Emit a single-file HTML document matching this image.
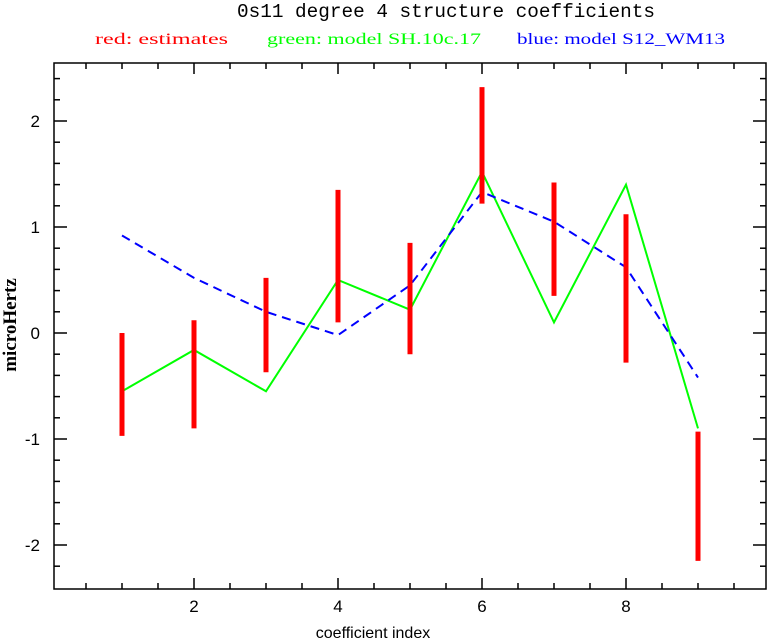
<!DOCTYPE html>
<html><head><meta charset="utf-8"><style>
html,body{margin:0;padding:0;background:#fff;}
svg{display:block;}
</style></head><body>
<svg id="chart" width="767" height="641" xmlns="http://www.w3.org/2000/svg">
<text x="237" y="17" font-family="Liberation Mono, monospace" font-size="19" textLength="418" lengthAdjust="spacingAndGlyphs">0s11 degree 4 structure coefficients</text>
<text x="95" y="44" fill="#ff0000" font-family="Liberation Serif, serif" font-size="16" textLength="133" lengthAdjust="spacingAndGlyphs">red: estimates</text>
<text x="267" y="44" fill="#00ff00" font-family="Liberation Serif, serif" font-size="16" textLength="214" lengthAdjust="spacingAndGlyphs">green: model SH.10c.17</text>
<text x="517" y="44" fill="#0000ff" font-family="Liberation Serif, serif" font-size="16" textLength="208" lengthAdjust="spacingAndGlyphs">blue: model S12_WM13</text>
<rect x="54" y="63" width="712" height="526" fill="none" stroke="#000" stroke-width="1.5"/>
<g id="axes"></g>
<g id="series"></g>
<text transform="translate(16,325) rotate(-90)" text-anchor="middle" font-family="Liberation Serif, serif" font-size="19" font-weight="bold">microHertz</text>
<text x="373" y="638" text-anchor="middle" font-family="Liberation Sans, sans-serif" font-size="16">coefficient index</text>
</svg>
<script>
const xIdx = [1,2,3,4,5,6,7,8,9];
const estLow = [-0.97,-0.9,-0.37,0.1,-0.2,1.22,0.35,-0.28,-2.15];
const estHigh = [0.0,0.12,0.52,1.35,0.85,2.32,1.42,1.12,-0.93];
const greenVals = [-0.55,-0.16,-0.55,0.5,0.22,1.52,0.1,1.4,-0.9];
const blueVals = [0.92,0.52,0.2,-0.02,0.45,1.33,1.05,0.62,-0.42];
const xTicks = [2,4,6,8];
const yTicks = [-2,-1,0,1,2];
const NS='http://www.w3.org/2000/svg';
const X0=54,X1=766,Y0=63,Y1=589;
function xs(v){return 50+72*v;}
function ys(v){return 333-106*v;}
const ax=document.getElementById('axes'), se=document.getElementById('series');
function mk(tag,attrs,parent){const e=document.createElementNS(NS,tag);for(const k in attrs)e.setAttribute(k,attrs[k]);parent.appendChild(e);return e;}
for(let v=0.5;v<=9.5;v+=0.5){
  const major=Math.abs(v-Math.round(v/2)*2)<1e-9;
  const L=major?11:6;
  let t=mk('line',{x1:xs(v),x2:xs(v),y1:Y1,y2:Y1-L,stroke:'#000','stroke-width':1.5},ax);
  
  
  t=mk('line',{x1:xs(v),x2:xs(v),y1:Y0,y2:Y0+L,stroke:'#000','stroke-width':1.5},ax);
  
  
}
xTicks.forEach(v=>{
  const t=mk('text',{x:xs(v),y:612,'text-anchor':'middle','font-family':'Liberation Sans, sans-serif','font-size':17},ax);
  t.textContent=v;
  
  
});
for(let i=-11;i<=12;i++){
  const v=i*0.2;
  const major=i%5===0;
  const L=major?13:6;
  let t=mk('line',{x1:X0,x2:X0+L,y1:ys(v),y2:ys(v),stroke:'#000','stroke-width':1.5},ax);
  
  
  t=mk('line',{x1:X1,x2:X1-L,y1:ys(v),y2:ys(v),stroke:'#000','stroke-width':1.5},ax);
  
  
}
yTicks.forEach(v=>{
  const t=mk('text',{x:40,y:ys(v)+6,'text-anchor':'end','font-family':'Liberation Sans, sans-serif','font-size':17},ax);
  t.textContent=v;
  
  
});
let g=mk('polyline',{points:xIdx.map((x,i)=>xs(x)+','+ys(greenVals[i])).join(' '),fill:'none',stroke:'#00ff00','stroke-width':2},se);


let b=mk('polyline',{points:xIdx.map((x,i)=>xs(x)+','+ys(blueVals[i])).join(' '),fill:'none',stroke:'#0000ff','stroke-width':2,'stroke-dasharray':'9,6'},se);


xIdx.forEach((x,i)=>{
  const r=mk('line',{x1:xs(x),x2:xs(x),y1:ys(estLow[i]),y2:ys(estHigh[i]),stroke:'#ff0000','stroke-width':5},se);
  
  
});
</script>
</body></html>
